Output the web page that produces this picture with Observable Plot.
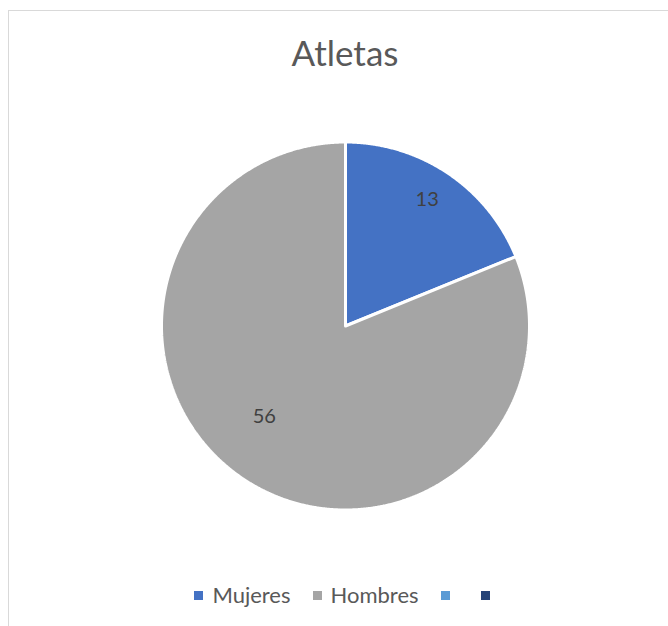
<!DOCTYPE html>
<html><head><meta charset="utf-8">
<script src="https://cdn.jsdelivr.net/npm/d3@7"></script>
<script src="https://cdn.jsdelivr.net/npm/@observablehq/plot@0.6"></script>
<style>
body{margin:0;background:#fff;}
#wrap{position:relative;width:668px;height:626px;overflow:hidden;font-family:Lato,"Open Sans",sans-serif;background:#fff;}
#frame{position:absolute;left:8px;top:10px;width:720px;height:720px;border:1.5px solid #d9d9d9;box-sizing:border-box;}
#chart{position:absolute;left:0;top:0;}
#title{position:absolute;left:0;width:690px;top:35px;text-align:center;font-size:35px;line-height:35px;color:#595959;font-weight:400;}
#legend{position:absolute;left:0;width:693px;top:584px;display:flex;justify-content:center;align-items:center;font-size:22px;line-height:22px;color:#595959;}
.item{display:flex;align-items:center;margin-right:22px;}
.item:last-child{margin-right:0;}
.sw{width:9px;height:9px;margin-right:9px;}
</style></head>
<body>
<div id="wrap"><div id="frame"></div><div id="chart"></div><div id="title">Atletas</div><div id="legend"></div></div>
<script>
const title = "Atletas";
const categories = ["Mujeres", "Hombres"];
const values = [13, 56];
const legendLabels = ["Mujeres", "Hombres", "", ""];
const legendColors = ["#4472C4", "#A5A5A5", "#5B9BD5", "#264478"];

const W = 668, H = 626, cx = 345, cy = 325.5, R = 184;

const arcs = d3.pie().sort(null).value(d => d.value)(categories.map((c, i) => ({name: c, value: values[i]})));

const pts = [];
arcs.forEach(a => {
  const name = a.data.name;
  pts.push({name, x: 0, y: 0});
  const n = Math.max(2, Math.ceil((a.endAngle - a.startAngle) / 0.005));
  for (let k = 0; k <= n; k++) {
    const t = a.startAngle + (a.endAngle - a.startAngle) * k / n;
    pts.push({name, x: Math.sin(t), y: Math.cos(t)});
  }
  pts.push({name, x: 0, y: 0});
});

const labelFrac = [0.82, 0.66];
const labels = arcs.map((a, i) => {
  const m = (a.startAngle + a.endAngle) / 2 + (i === 1 ? 0.14 : -0.02);
  return {text: String(a.data.value), x: labelFrac[i] * Math.sin(m), y: labelFrac[i] * Math.cos(m)};
});

const plot = Plot.plot({
  width: W, height: H,
  margin: 0,
  x: {domain: [-cx / R, (W - cx) / R], axis: null},
  y: {domain: [(cy - H) / R, cy / R], axis: null},
  color: {domain: legendLabels.slice(0, 2), range: legendColors.slice(0, 2)},
  marks: [
    Plot.line(pts, {x: "x", y: "y", z: "name", fill: "name", stroke: "white", strokeWidth: 3, strokeLinejoin: "miter", curve: "linear"}),
    Plot.text(labels, {x: "x", y: "y", text: "text", fill: "#404040", fontSize: 20, fontFamily: "Lato, sans-serif"})
  ]
});
document.getElementById("chart").appendChild(plot);

document.getElementById("title").textContent = title;
const lg = document.getElementById("legend");
legendLabels.forEach((l, i) => {
  const it = document.createElement("div"); it.className = "item";
  const sw = document.createElement("div"); sw.className = "sw"; sw.style.background = legendColors[i];
  const tx = document.createElement("span"); tx.textContent = l;
  it.appendChild(sw); it.appendChild(tx); lg.appendChild(it);
});
</script>
</body></html>
